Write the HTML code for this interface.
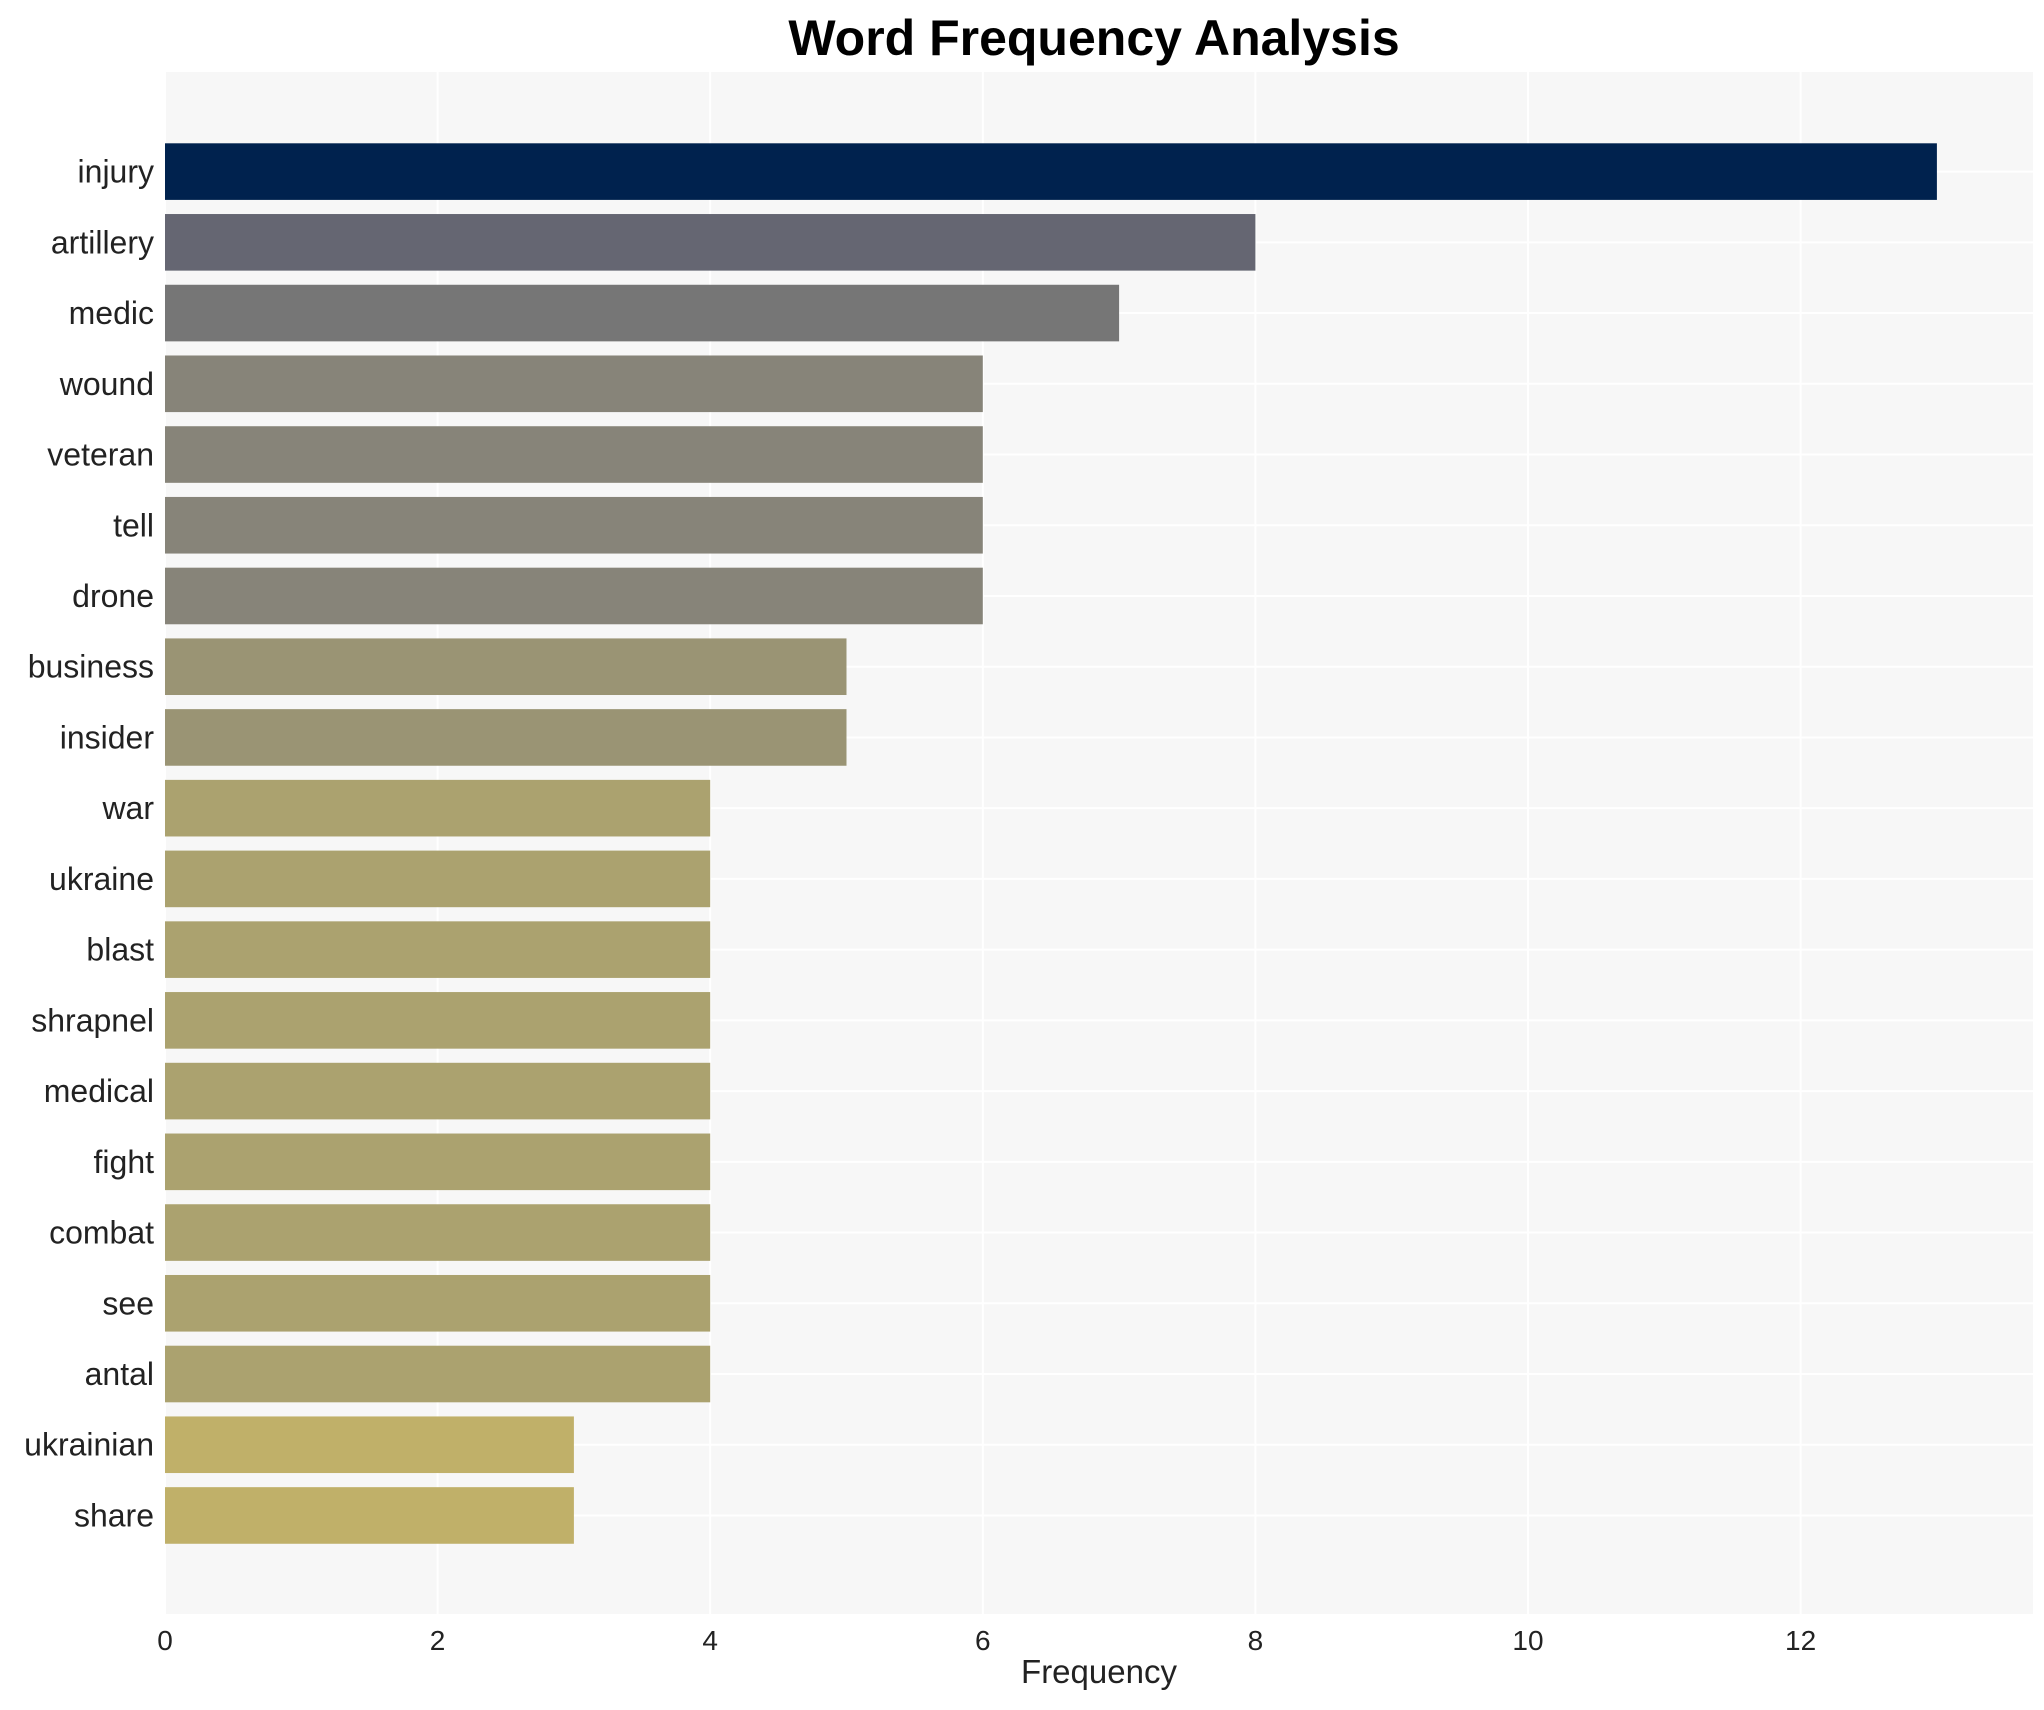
<!DOCTYPE html>
<html><head><meta charset="utf-8"><style>
body{margin:0;background:#fff;}
svg{display:block;font-family:"Liberation Sans",Arial,sans-serif;}
</style></head><body>
<svg id="chart" width="2044" height="1710" xmlns="http://www.w3.org/2000/svg">
<text x="1094" y="55" text-anchor="middle" font-size="50" font-weight="bold" fill="#000">Word Frequency Analysis</text>
<rect x="165" y="72" width="1868" height="1542" fill="#f7f7f7"/>
<g id="grid"></g><g id="bars"></g><g id="ylabels"></g><g id="xticks"></g>
<text x="1099" y="1683" text-anchor="middle" font-size="33" fill="#222">Frequency</text>
</svg>
<script>
const categories=["injury","artillery","medic","wound","veteran","tell","drone","business","insider","war","ukraine","blast","shrapnel","medical","fight","combat","see","antal","ukrainian","share"];
const values=[13,8,7,6,6,6,6,5,5,4,4,4,4,4,4,4,4,4,3,3];
const colors=["#00224e","#656672","#767676","#878479","#878479","#878479","#878479","#9a9474","#9a9474","#aba26f","#aba26f","#aba26f","#aba26f","#aba26f","#aba26f","#aba26f","#aba26f","#aba26f","#c0b069","#c0b069"];
const xTicks=[0,2,4,6,8,10,12];
const NS="http://www.w3.org/2000/svg";
const x0=165,unit=136.3;
function xs(v){return x0+v*unit;}
const step=70.73,firstY=171.6;
function ys(i){return firstY+i*step;}
const grid=document.getElementById('grid'),bars=document.getElementById('bars'),yl=document.getElementById('ylabels'),xt=document.getElementById('xticks');
xTicks.forEach(t=>{
 const l=document.createElementNS(NS,'line');
 
 
 l.setAttribute('x1',xs(t));l.setAttribute('x2',xs(t));l.setAttribute('y1',72);l.setAttribute('y2',1614);
 l.setAttribute('stroke','#fff');l.setAttribute('stroke-width','2');grid.appendChild(l);
 const tx=document.createElementNS(NS,'text');
 
 
 tx.setAttribute('x',xs(t));tx.setAttribute('y',1650);tx.setAttribute('text-anchor','middle');
 tx.setAttribute('font-size','28');tx.setAttribute('fill','#222');tx.textContent=t;xt.appendChild(tx);
});
categories.forEach((c,i)=>{
 const gl=document.createElementNS(NS,'line');
 
 
 gl.setAttribute('x1',165);gl.setAttribute('x2',2033);gl.setAttribute('y1',ys(i));gl.setAttribute('y2',ys(i));
 gl.setAttribute('stroke','#fff');gl.setAttribute('stroke-width','2');grid.appendChild(gl);
 const r=document.createElementNS(NS,'rect');
 
 
 r.setAttribute('x',xs(0));r.setAttribute('y',ys(i)-28.3);r.setAttribute('width',xs(values[i])-xs(0));r.setAttribute('height',56.6);
 r.setAttribute('fill',colors[i]);bars.appendChild(r);
 const t=document.createElementNS(NS,'text');
 
 
 t.setAttribute('x',154);t.setAttribute('y',ys(i)+11);t.setAttribute('text-anchor','end');
 t.setAttribute('font-size','32');t.setAttribute('fill','#222');t.textContent=c;yl.appendChild(t);
});
</script>
</body></html>
